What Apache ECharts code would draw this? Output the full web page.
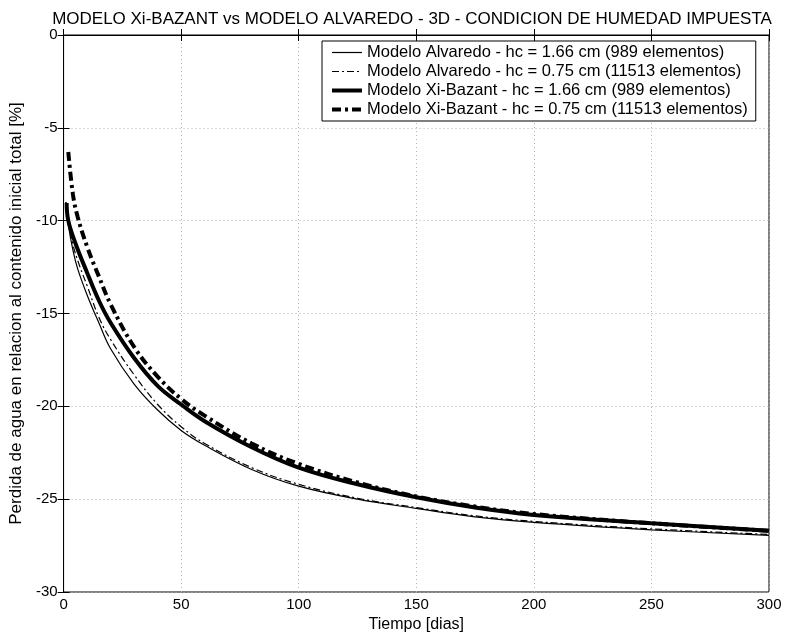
<!DOCTYPE html>
<html>
<head>
<meta charset="utf-8">
<script src="https://cdn.jsdelivr.net/npm/echarts@6/dist/echarts.min.js"></script>
<style>
  html, body { margin: 0; padding: 0; background: #fff; }
  #chart { width: 785px; height: 640px; }
</style>
</head>
<body>
<div id="chart"></div>
<script>
// values (days, % loss)
const alv166Days = [1, 2, 4, 6, 10, 15, 20, 30, 40, 50, 60, 80, 100, 125, 150, 175, 200, 250, 300]
const alv166 = [-9.0, -10.2, -11.6, -12.6, -14.0, -15.5, -16.9, -18.8, -20.2, -21.3, -22.1, -23.4, -24.3, -25.0, -25.5, -25.95, -26.25, -26.65, -26.95]

const alv075Days = [1, 2, 4, 7, 10, 15, 20, 30, 40, 50, 60, 80, 100, 125, 150, 175, 200, 250, 300]
const alv075 = [-9.0, -10.0, -11.3, -12.5, -13.5, -15.2, -16.4, -18.3, -19.9, -21.1, -22.0, -23.3, -24.2, -24.95, -25.45, -25.9, -26.2, -26.6, -26.9]

const xb166Days = [1.3, 2, 5, 10, 15, 20, 30, 40, 50, 60, 80, 100, 125, 150, 175, 200, 250, 300]
const xb166 = [-9.05, -10.0, -11.2, -12.8, -14.3, -15.5, -17.4, -18.9, -19.9, -20.8, -22.2, -23.3, -24.2, -24.9, -25.45, -25.85, -26.3, -26.7]

const xb075Days = [2, 4, 6, 10, 15, 20, 30, 40, 50, 60, 80, 100, 125, 150, 175, 200, 250, 300]
const xb075 = [-6.3, -8.6, -9.8, -11.4, -13.0, -14.5, -16.8, -18.4, -19.6, -20.5, -22.0, -23.1, -24.1, -24.85, -25.4, -25.8, -26.3, -26.7]

const seriesNames = [
  'Modelo Alvaredo - hc = 1.66 cm (989 elementos)',
  'Modelo Alvaredo - hc = 0.75 cm (11513 elementos)',
  'Modelo Xi-Bazant - hc = 1.66 cm (989 elementos)',
  'Modelo Xi-Bazant - hc = 0.75 cm (11513 elementos)'
]
const lineWidths = [1.2, 1.2, 4, 4]
const lineTypes = ['solid', [7, 3, 2, 3], 'solid', [9, 4, 3, 4]]

const pairs = (xs, ys) => xs.map((x, i) => [x, ys[i]])

const font = 'Liberation Sans, Arial, sans-serif'
const gridLine = { show: true, lineStyle: { color: '#b0b0b0', type: [1, 3], width: 1 } }

const mkLine = (i, data) => ({
  name: seriesNames[i],
  type: 'line',
  data: data,
  symbol: 'none',
  smooth: 0.4,
  lineStyle: { color: '#000', width: lineWidths[i], type: lineTypes[i] },
  itemStyle: { color: '#000' },
  z: lineWidths[i] > 2 ? 3 : 4
})

let myChart = echarts.init(document.getElementById('chart'), null, { renderer: 'canvas' })

let option = {
  backgroundColor: '#fff',
  animation: false,
  textStyle: { fontFamily: font, color: '#000' },
  title: {
    text: 'MODELO Xi-BAZANT vs MODELO ALVAREDO - 3D - CONDICION DE HUMEDAD IMPUESTA',
    left: 407,
    textAlign: 'center',
    top: 6,
    textStyle: { fontFamily: font, fontSize: 17, fontWeight: 'normal', color: '#000' }
  },
  legend: {
    orient: 'vertical',
    left: 322,
    top: 41,
    padding: [2, 8, 2, 8],
    itemGap: 0,
    itemWidth: 30,
    itemHeight: 14,
    backgroundColor: '#fff',
    borderColor: '#000',
    borderWidth: 1,
    itemStyle: { opacity: 0 },
    textStyle: { fontFamily: font, fontSize: 16.5, lineHeight: 19, color: '#000' },
    data: seriesNames.map((n, i) => ({
      name: n,
      lineStyle: { width: lineWidths[i], type: lineTypes[i], color: '#000' }
    }))
  },
  grid: {
    left: 62, right: 16, top: 35, bottom: 48,
    show: true, borderColor: '#000', borderWidth: 1
  },
  xAxis: [
    {
      type: 'value', min: 0, max: 300, interval: 50,
      name: 'Tiempo [dias]', nameLocation: 'middle', nameGap: 23,
      nameTextStyle: { fontFamily: font, fontSize: 16, color: '#000' },
      axisLine: { show: true, lineStyle: { color: '#000' } },
      axisTick: { inside: true, length: 6, lineStyle: { color: '#000' } },
      axisLabel: { fontFamily: font, fontSize: 15, color: '#000', margin: 5 },
      splitLine: gridLine
    },
    {
      type: 'value', min: 0, max: 300, interval: 50, position: 'top',
      axisLine: { show: true, lineStyle: { color: '#000' } },
      axisTick: { inside: true, length: 6, lineStyle: { color: '#000' } },
      axisLabel: { show: false },
      splitLine: { show: false }
    }
  ],
  yAxis: [
    {
      type: 'value', min: -30, max: 0, interval: 5,
      name: 'Perdida de agua en relacion al contenido inicial total [%]',
      nameLocation: 'middle', nameGap: 34,
      nameTextStyle: { fontFamily: font, fontSize: 17, color: '#000' },
      axisLine: { show: true, lineStyle: { color: '#000' } },
      axisTick: { inside: true, length: 6, lineStyle: { color: '#000' } },
      axisLabel: { fontFamily: font, fontSize: 15, color: '#000', margin: 6 },
      splitLine: gridLine
    },
    {
      type: 'value', min: -30, max: 0, interval: 5, position: 'right',
      axisLine: { show: true, lineStyle: { color: '#000' } },
      axisTick: { inside: true, length: 6, lineStyle: { color: '#000' } },
      axisLabel: { show: false },
      splitLine: { show: false }
    }
  ],
  series: [
    mkLine(0, pairs(alv166Days, alv166)),
    mkLine(1, pairs(alv075Days, alv075)),
    mkLine(2, pairs(xb166Days, xb166)),
    mkLine(3, pairs(xb075Days, xb075))
  ]
}
myChart.setOption(option)
</script>
</body>
</html>
